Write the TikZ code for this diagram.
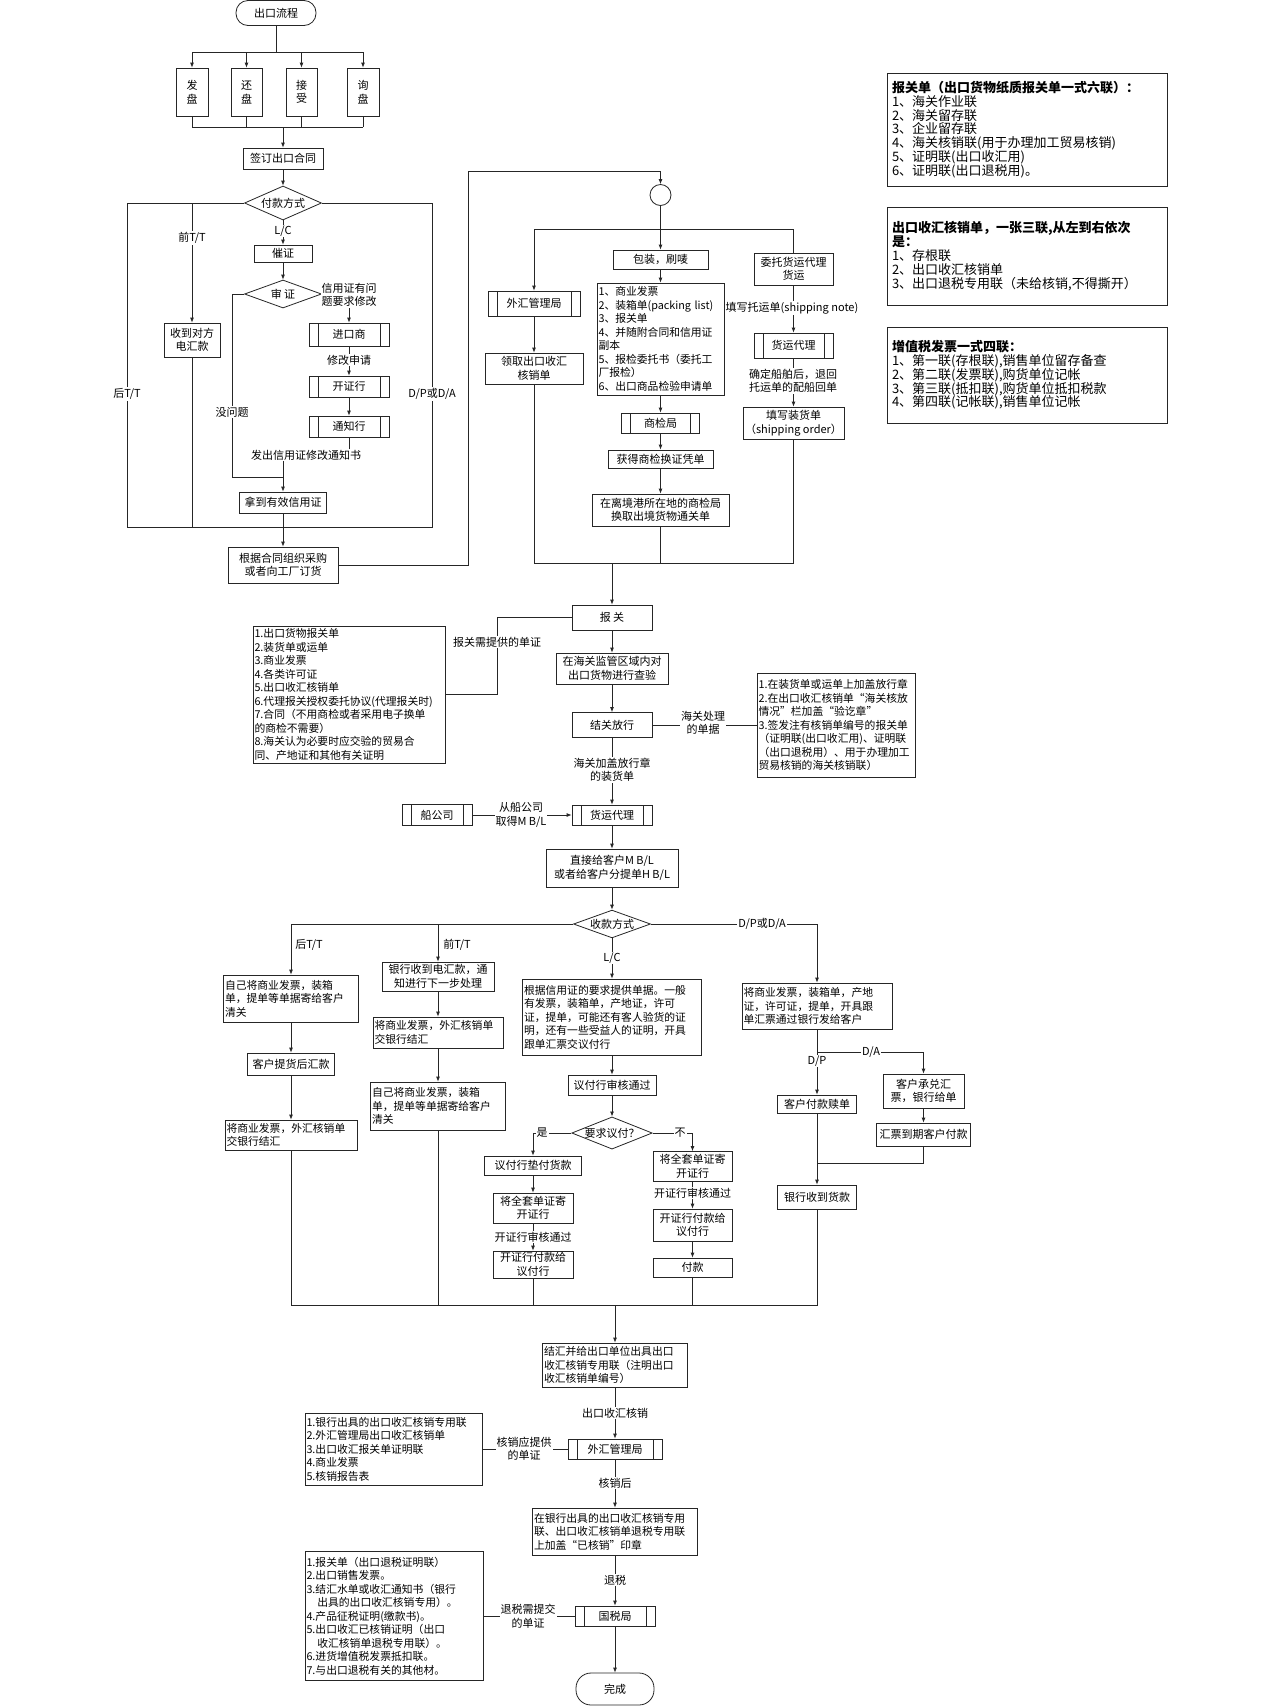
\documentclass[tikz,border=0pt]{standalone}
\usepackage{fontspec}
\setmainfont{Noto Sans CJK SC}
\usetikzlibrary{arrows.meta,shapes.geometric}
\definecolor{ln}{gray}{0.15}
\newcommand{\fs}{\fontsize{11}{13.5}\selectfont}
\newcommand{\fsl}{\fontsize{10.8}{13.5}\selectfont}
\newcommand{\fb}{\fontsize{13}{13.8}\selectfont}
\begin{document}
\begin{tikzpicture}[x=1pt,y=-1pt,
  every node/.style={font=\fs, text=black},
  line/.style={draw=ln, line width=0.8pt},
  arr/.style={draw=ln, line width=0.8pt, -{Latex[length=5pt,width=4pt]}},
  box/.style={draw=ln, line width=0.8pt, fill=white, inner sep=0pt, align=center},
  wh/.style 2 args={minimum width=#1pt, minimum height=#2pt},
  lst/.style={draw=ln, line width=0.8pt, fill=white, inner xsep=1.5pt, inner ysep=0pt, align=left, font=\fsl},
  info/.style={lst, inner xsep=5pt, font=\fb},
  lw/.style 2 args={text width=#1pt, minimum height=#2pt},
  pp/.style={box, path picture={\draw[ln, line width=0.8pt] ([xshift=9pt]path picture bounding box.north west) -- ([xshift=9pt]path picture bounding box.south west) ([xshift=-9pt]path picture bounding box.north east) -- ([xshift=-9pt]path picture bounding box.south east);}},
  dia/.style={draw=ln, line width=0.8pt, fill=white, diamond, inner sep=0pt, aspect=2.5},
  term/.style={box, rounded corners=12pt},
  lab/.style={fill=white, inner sep=1pt, align=center},
  plain/.style={inner sep=1pt, align=center},
]
\useasboundingbox (0,0) rectangle (1280,1706);
\fill[white] (0,0) rectangle (1280,1706);

% ---------------- top part ----------------
\node[term, wh={80}{25}] (start) at (276,13) {出口流程};
\node[box, wh={32}{48}] (fp) at (192,92) {发\\盘};
\node[box, wh={31}{48}] (hp) at (246.5,92) {还\\盘};
\node[box, wh={31}{48}] (js) at (301.5,92) {接\\受};
\node[box, wh={32}{48}] (xp) at (363,92) {询\\盘};
\node[box, wh={80}{21}] (qd) at (283,158.5) {签订出口合同};
\node[dia, wh={77}{34}] (fk) at (283,203) {付款方式};
\node[box, wh={56}{34}] (dh) at (192,340) {收到对方\\电汇款};
\node[box, wh={58}{17}] (cz) at (283,253.5) {催证};
\node[dia, wh={77}{28}] (sz) at (283,294) {审 证};
\node[pp, wh={80}{23}] (jk) at (349,334.5) {进口商};
\node[pp, wh={80}{21}] (kz) at (349,386.5) {开证行};
\node[pp, wh={80}{21}] (tz) at (349,426.5) {通知行};
\node[box, wh={87}{21}] (yx) at (283,502.5) {拿到有效信用证};
\node[box, wh={110}{36}] (cg) at (283,565) {根据合同组织采购\\或者向工厂订货};

\node[draw=ln, line width=0.8pt, circle, minimum size=21pt, inner sep=0pt] (ci) at (660.5,195) {};
\node[pp, wh={92}{25}] (whj) at (534,303.5) {外汇管理局};
\node[box, wh={98}{31}] (lq) at (534,368.5) {领取出口收汇\\核销单};
\node[box, wh={95}{19}] (bz) at (660.5,259.5) {包装，刷唛};
\node[lst, lw={124}{112}] (docs) at (660.5,339) {1、商业发票\\2、装箱单(packing list)\\3、报关单\\4、并随附合同和信用证\\副本\\5、报检委托书（委托工\\厂报检）\\6、出口商品检验申请单};
\node[pp, wh={78}{20}] (sj) at (660.5,423) {商检局};
\node[box, wh={105}{18}] (hd) at (660.5,459) {获得商检换证凭单};
\node[box, wh={137}{32}] (lj) at (660.5,510) {在离境港所在地的商检局\\换取出境货物通关单};
\node[box, wh={79}{32}] (wt) at (793.5,269) {委托货运代理\\货运};
\node[pp, wh={79}{25}] (hy1) at (793.5,345.5) {货运代理};
\node[box, wh={101}{32}] (zh) at (793.5,423) {填写装货单\\（shipping order）};

% right info boxes
\node[info, lw={270}{113}] (i1) at (1027,129.5) {{\bfseries 报关单（出口货物纸质报关单一式六联）：}\\1、海关作业联\\2、海关留存联\\3、企业留存联\\4、海关核销联(用于办理加工贸易核销)\\5、证明联(出口收汇用)\\6、证明联(出口退税用)。};
\node[info, lw={270}{98}] (i2) at (1027,256) {{\bfseries 出口收汇核销单，一张三联,从左到右依次}\\{\bfseries 是：}\\1、存根联\\2、出口收汇核销单\\3、出口退税专用联（未给核销,不得撕开）};
\node[info, lw={270}{96}] (i3) at (1027,375) {{\bfseries 增值税发票一式四联：}\\1、第一联(存根联),销售单位留存备查\\2、第二联(发票联),购货单位记帐\\3、第三联(抵扣联),购货单位抵扣税款\\4、第四联(记帐联),销售单位记帐};

% ---------------- middle part ----------------
\node[box, wh={80}{25}] (bg) at (612,617.5) {报 关};
\node[lst, lw={189}{137}] (list1) at (349,694.5) {1.出口货物报关单\\2.装货单或运单\\3.商业发票\\4.各类许可证\\5.出口收汇核销单\\6.代理报关授权委托协议(代理报关时)\\7.合同（不用商检或者采用电子换单\\的商检不需要）\\8.海关认为必要时应交验的贸易合\\同、产地证和其他有关证明};
\node[box, wh={112}{31}] (cy) at (612,668.5) {在海关监管区域内对\\出口货物进行查验};
\node[box, wh={80}{25}] (jg) at (612,725) {结关放行};
\node[lst, lw={155}{104}] (list2) at (836,725) {1.在装货单或运单上加盖放行章\\2.在出口收汇核销单“海关核放\\情况”栏加盖“验讫章”\\3.签发注有核销单编号的报关单\\（证明联(出口收汇用)、证明联\\（出口退税用）、用于办理加工\\贸易核销的海关核销联）};
\node[pp, wh={80}{20}] (hy2) at (612,815) {货运代理};
\node[pp, wh={70}{21}] (cgs) at (437,815) {船公司};
\node[box, wh={132}{38}] (zj) at (612,868) {直接给客户M B/L\\或者给客户分提单H B/L};
\node[dia, wh={77}{26}] (sk) at (612,924) {收款方式};

% ---------------- payment part ----------------
\node[lst, lw={132}{47}] (L1) at (291,998.5) {自己将商业发票，装箱\\单，提单等单据寄给客户\\清关};
\node[box, wh={87}{22}] (L2) at (291,1064) {客户提货后汇款};
\node[lst, lw={129}{30}] (L3) at (291,1135) {将商业发票，外汇核销单\\交银行结汇};
\node[box, wh={112}{29}] (M1) at (438,976.5) {银行收到电汇款，通\\知进行下一步处理};
\node[lst, lw={127}{31}] (M2) at (438,1032.5) {将商业发票，外汇核销单\\交银行结汇};
\node[lst, lw={132}{48}] (M3) at (438,1106) {自己将商业发票，装箱\\单，提单等单据寄给客户\\清关};
\node[lst, lw={176}{76}] (C1) at (612,1017) {根据信用证的要求提供单据。一般\\有发票，装箱单，产地证，许可\\证，提单，可能还有客人验货的证\\明，还有一些受益人的证明，开具\\跟单汇票交议付行};
\node[box, wh={88}{20}] (C2) at (612,1085) {议付行审核通过};
\node[dia, wh={77}{30}] (yq) at (612,1133) {要求议付？};
\node[box, wh={97}{19}] (Y1) at (533,1165.5) {议付行垫付货款};
\node[box, wh={80}{30}] (Y2) at (533,1208) {将全套单证寄\\开证行};
\node[box, wh={80}{27}] (Y3) at (533,1264.5) {开证行付款给\\议付行};
\node[box, wh={79}{30}] (N1) at (692.5,1166.5) {将全套单证寄\\开证行};
\node[box, wh={79}{32}] (N2) at (692.5,1225) {开证行付款给\\议付行};
\node[box, wh={79}{19}] (N3) at (692.5,1267.5) {付款};
\node[lst, lw={147}{46}] (D1) at (817,1006) {将商业发票，装箱单，产地\\证，许可证，提单，开具跟\\单汇票通过银行发给客户};
\node[box, wh={79}{18}] (D2) at (817,1104) {客户付款赎单};
\node[box, wh={81}{34}] (D3) at (923.5,1091) {客户承兑汇\\票，银行给单};
\node[box, wh={94}{23}] (D4) at (923.5,1134.5) {汇票到期客户付款};
\node[box, wh={79}{24}] (D5) at (817,1197) {银行收到货款};

% ---------------- final part ----------------
\node[lst, lw={142}{44}] (jh) at (615,1365) {结汇并给出口单位出具出口\\收汇核销专用联（注明出口\\收汇核销单编号）};
\node[pp, wh={94}{20}] (wg) at (615,1449) {外汇管理局};
\node[lst, lw={174}{72}] (list3) at (393.5,1449) {1.银行出具的出口收汇核销专用联\\2.外汇管理局出口收汇核销单\\3.出口收汇报关单证明联\\4.商业发票\\5.核销报告表};
\node[lst, lw={162}{47}] (yh) at (615,1531.5) {在银行出具的出口收汇核销专用\\联、出口收汇核销单退税专用联\\上加盖“已核销”印章};
\node[pp, wh={80}{20}] (gs) at (615,1616) {国税局};
\node[lst, lw={175}{129}] (list4) at (394,1616) {1.报关单（出口退税证明联）\\2.出口销售发票。\\3.结汇水单或收汇通知书（银行\\\hspace*{1em}出具的出口收汇核销专用）。\\4.产品征税证明(缴款书)。\\5.出口收汇已核销证明（出口\\\hspace*{1em}收汇核销单退税专用联）。\\6.进货增值税发票抵扣联。\\7.与出口退税有关的其他材。};
\node[term, wh={78}{32}, rounded corners=15pt] (done) at (615,1689) {完成};

% ---------------- connectors: top ----------------
\coordinate (j0) at (276,52);
\coordinate (j1) at (283,127);
\draw[line] (start.south) -- (j0);
\draw[line] (fp.north|-j0) -- (xp.north|-j0);
\foreach \n in {fp,hp,js,xp} {\draw[arr] (\n.north|-j0) -- (\n.north); \draw[line] (\n.south) -- (\n.south|-j1);}
\draw[line] (fp.south|-j1) -- (xp.south|-j1);
\draw[arr] (j1) -- (qd.north);
\draw[arr] (qd) -- (fk);

\coordinate (pl) at (127,527);
\coordinate (pr) at (432,527);
\draw[line] (fk.west) -- (fk.west-|pl) -- (pl) -- (pr) -- (fk.east-|pr) -- (fk.east);
\draw[arr] (dh.north|-fk.west) -- (dh.north);
\draw[line] (dh.south) -- (dh.south|-pl);
\draw[arr] (fk.south) -- (cz.north);
\draw[arr] (cz) -- (sz);
\draw[arr] (sz.east) -| (jk.north);
\draw[arr] (jk) -- (kz);
\draw[arr] (kz) -- (tz);
\coordinate (m1) at (283,455);
\draw[arr] (tz.south) |- (m1) -- (yx.north);
\coordinate (m2) at (232,477);
\draw[line] (sz.west) -| (m2) -- (m2-|yx.north);
\draw[arr] (yx) -- (cg);
\coordinate (c1) at (468,171);
\draw[arr] (cg.east) -| (c1) -| (ci.north);

\coordinate (c2) at (660.5,229);
\draw[line] (ci.south) -- (c2);
\draw[line] (whj.north|-c2) -- (wt.north|-c2);
\draw[arr] (whj.north|-c2) -- (whj.north);
\draw[arr] (c2) -- (bz.north);
\draw[line] (wt.north|-c2) -- (wt.north);
\draw[arr] (whj) -- (lq);
\draw[arr] (bz) -- (docs);
\draw[arr] (docs) -- (sj);
\draw[arr] (sj) -- (hd);
\draw[arr] (hd) -- (lj);
\draw[arr] (wt) -- (hy1);
\draw[arr] (hy1) -- (zh);
\coordinate (c3) at (612,563);
\draw[line] (lq.south) -- (lq.south|-c3) -- (zh.south|-c3) -- (zh.south);
\draw[line] (lj.south) -- (lj.south|-c3);
\draw[arr] (c3) -- (bg.north);

% ---------------- connectors: middle ----------------
\coordinate (b2) at (497,694.5);
\draw[line] (bg.west) -| (b2) -- (list1.east);
\draw[arr] (bg) -- (cy);
\draw[arr] (cy) -- (jg);
\draw[line] (jg.east) -- (list2.west);
\draw[arr] (jg) -- (hy2);
\draw[arr] (cgs.east) -- (hy2.west);
\draw[arr] (hy2) -- (zj);
\draw[arr] (zj) -- (sk);

% ---------------- connectors: payment ----------------
\coordinate (s1) at (291,924);
\draw[line] (sk.west) -- (s1);
\draw[arr] (s1) -- (L1.north);
\draw[arr] (M1.north|-s1) -- (M1.north);
\draw[arr] (L1) -- (L2);
\draw[arr] (L2) -- (L3);
\draw[arr] (M1) -- (M2);
\draw[arr] (M2) -- (M3);
\draw[arr] (sk.south) -- (C1.north);
\draw[arr] (C1) -- (C2);
\draw[arr] (C2) -- (yq);
\draw[arr] (yq.west) -| (Y1.north);
\draw[arr] (Y1) -- (Y2);
\draw[arr] (Y2) -- (Y3);
\draw[arr] (yq.east) -| (N1.north);
\draw[arr] (N1) -- (N2);
\draw[arr] (N2) -- (N3);
\draw[arr] (sk.east) -| (D1.north);
\coordinate (d1) at (817,1052);
\draw[line] (D1.south) -- (d1);
\draw[arr] (d1) -- (D2.north);
\draw[arr] (d1) -| (D3.north);
\draw[arr] (D3) -- (D4);
\coordinate (d2) at (817,1163);
\draw[line] (D4.south) |- (d2);
\draw[arr] (D2) -- (D5);
\coordinate (bl) at (291,1305);
\coordinate (br) at (817,1305);
\draw[line] (L3.south) -- (bl) -- (br) -- (D5.south);
\draw[line] (M3.south) -- (M3.south|-bl);
\draw[line] (Y3.south) -- (Y3.south|-bl);
\draw[line] (N3.south) -- (N3.south|-bl);
\draw[arr] (jh.north|-bl) -- (jh.north);

% ---------------- connectors: final ----------------
\draw[arr] (jh) -- (wg);
\draw[line] (wg.west) -- (list3.east);
\draw[arr] (wg) -- (yh);
\draw[arr] (yh) -- (gs);
\draw[line] (gs.west) -- (list4.east);
\draw[arr] (gs) -- (done);

% ---------------- labels ----------------
\node[lab] at (192,238) {前T/T};
\node[lab] at (127,394) {后T/T};
\node[lab] at (432,394) {D/P或D/A};
\node[lab] at (283,231) {L/C};
\node[lab] at (349,295) {信用证有问\\题要求修改};
\node[lab] at (349,360) {修改申请};
\node[lab] at (306,455) {发出信用证修改通知书};
\node[lab] at (232,412) {没问题};
\node[lab] at (792,308) {填写托运单(shipping note)};
\node[lab] at (793,381) {确定船舶后，退回\\托运单的配船回单};
\node[lab] at (497,642) {报关需提供的单证};
\node[lab] at (703,723) {海关处理\\的单据};
\node[lab] at (612,770) {海关加盖放行章\\的装货单};
\node[lab] at (521,815) {从船公司\\取得M B/L};
\node[plain] at (309,945) {后T/T};
\node[plain] at (457,945) {前T/T};
\node[lab] at (612,958) {L/C};
\node[lab] at (762,924) {D/P或D/A};
\node[lab] at (542,1133) {是};
\node[lab] at (680,1133) {不};
\node[lab] at (533,1237) {开证行审核通过};
\node[lab] at (692.5,1193) {开证行审核通过};
\node[lab] at (817,1061) {D/P};
\node[lab] at (871,1052) {D/A};
\node[lab] at (615,1413) {出口收汇核销};
\node[lab] at (524,1449) {核销应提供\\的单证};
\node[lab] at (615,1483) {核销后};
\node[lab] at (615,1580) {退税};
\node[lab] at (528,1616) {退税需提交\\的单证};
\end{tikzpicture}
\end{document}
